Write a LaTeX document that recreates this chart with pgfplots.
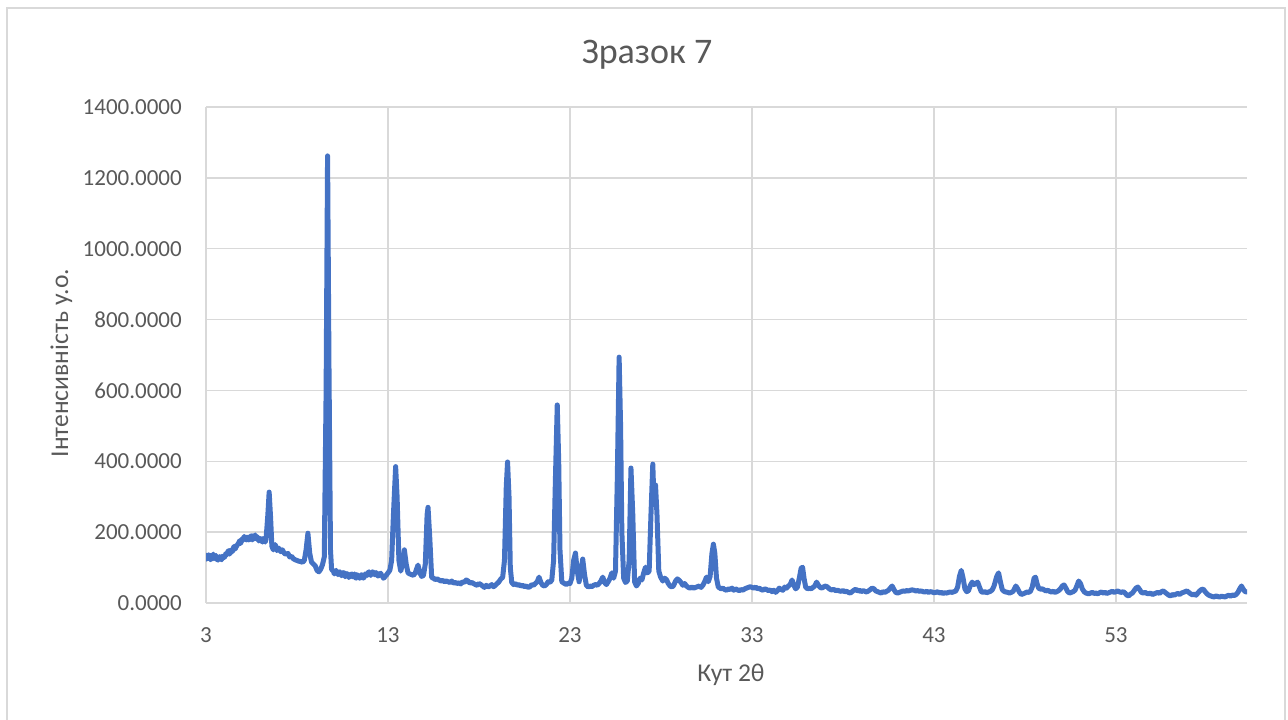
\documentclass[border=0pt]{standalone}
\usepackage{pgfplots}
\pgfplotsset{compat=1.18}
\usepackage{fontspec}
\setmainfont{Carlito}
\definecolor{txt}{HTML}{595959}
\definecolor{gridc}{HTML}{D9D9D9}
\definecolor{xblue}{HTML}{4472C4}
\begin{document}
\begin{tikzpicture}
\useasboundingbox (0pt,0pt) rectangle (1288pt,720pt);
\draw[gridc, line width=1.5pt] (7pt,-5pt) -- (7pt,712pt) -- (1285pt,712pt) -- (1285pt,-5pt);
\node[anchor=base, text=txt, font=\fontsize{36}{40}\selectfont] at (647pt,656pt) {Зразок 7};
\node[anchor=base, text=txt, font=\fontsize{25.6}{30}\selectfont] at (731pt,38pt) {Кут 2θ};
\node[anchor=base, rotate=90, text=txt, font=\fontsize{25.6}{30}\selectfont] at (68pt,357pt) {Інтенсивність у.о.};
\begin{axis}[
  at={(206pt,117pt)}, anchor=south west,
  width=1041pt, height=496pt, scale only axis,
  xmin=3, xmax=60.2, ymin=0, ymax=1400,
  xtick={3,13,23,33,43,53},
  ytick={0,200,400,600,800,1000,1200,1400},
  grid=major,
  major grid style={gridc, line width=1.3pt},
  separate axis lines,
  axis line style={draw=none},
  major tick length=0pt,
  /pgf/number format/assume math mode=true,
  xticklabel style={font=\fontsize{23}{27}\selectfont, text=txt, anchor=north, inner sep=0pt, yshift=-24pt},
  yticklabel style={font=\fontsize{23}{27}\selectfont, text=txt, anchor=east, inner sep=0pt, xshift=-24pt,
    /pgf/number format/.cd, fixed, fixed zerofill, precision=4, 1000 sep={}},
  xticklabel style={/pgf/number format/.cd, fixed, precision=0},
]
\addplot[xblue, line width=5pt, line join=round, line cap=round, no markers] coordinates {
(3.0,135)(3.05,124)(3.1,128)(3.15,136)(3.2,133)(3.25,122)(3.3,126)(3.35,131)(3.4,138)(3.45,125)
(3.5,130)(3.55,134)(3.6,124)(3.65,121)(3.7,127)(3.75,131)(3.8,125)(3.85,122)(3.9,132)(3.95,128)
(4.0,128)(4.05,134)(4.1,140)(4.15,136)(4.2,145)(4.25,148)(4.3,138)(4.35,146)(4.4,150)(4.45,145)
(4.5,155)(4.55,160)(4.6,152)(4.65,158)(4.7,162)(4.75,166)(4.8,170)(4.85,176)(4.9,168)(4.95,175)
(5.0,182)(5.05,178)(5.1,188)(5.15,182)(5.2,178)(5.25,186)(5.3,185)(5.35,178)(5.4,180)(5.45,188)
(5.5,190)(5.55,178)(5.6,183)(5.65,188)(5.7,192)(5.75,184)(5.8,180)(5.85,186)(5.9,175)(5.95,178)
(6.0,182)(6.05,176)(6.1,172)(6.15,182)(6.2,178)(6.25,172)(6.3,180)(6.4,250)(6.47,313)(6.55,240)
(6.62,160)(6.7,150)(6.8,165)(6.9,148)(7.0,155)(7.1,145)(7.2,150)(7.3,140)(7.4,138)(7.5,140)
(7.6,130)(7.7,132)(7.8,125)(7.9,122)(8.0,120)(8.1,118)(8.2,117)(8.3,115)(8.4,120)(8.5,150)
(8.6,197)(8.7,140)(8.8,115)(8.9,110)(9.0,105)(9.1,92)(9.2,88)(9.3,95)(9.4,108)(9.5,130)
(9.6,600)(9.68,1262)(9.76,650)(9.84,150)(9.9,95)(10.0,90)(10.05,82)(10.1,88)(10.15,92)(10.2,86)
(10.25,80)(10.3,85)(10.35,88)(10.4,83)(10.45,77)(10.5,80)(10.55,86)(10.6,84)(10.65,74)(10.7,78)
(10.75,83)(10.8,80)(10.85,72)(10.9,76)(10.95,80)(11.0,82)(11.05,74)(11.1,78)(11.15,82)(11.2,72)
(11.25,70)(11.3,80)(11.35,77)(11.4,75)(11.45,70)(11.5,72)(11.55,80)(11.6,78)(11.65,70)(11.7,74)
(11.75,82)(11.8,80)(11.85,78)(11.9,85)(11.95,88)(12.0,82)(12.05,78)(12.1,84)(12.15,88)(12.2,86)
(12.25,80)(12.3,80)(12.35,86)(12.4,82)(12.45,76)(12.5,78)(12.55,82)(12.6,84)(12.65,78)(12.7,75)
(12.75,70)(12.8,72)(12.85,76)(12.9,78)(13.0,85)(13.1,92)(13.2,120)(13.3,250)(13.42,385)(13.5,300)
(13.6,120)(13.7,90)(13.8,110)(13.9,150)(14.0,110)(14.1,85)(14.2,82)(14.3,80)(14.4,78)(14.5,85)
(14.6,100)(14.65,107)(14.75,85)(14.85,75)(14.95,78)(15.05,110)(15.15,250)(15.2,270)(15.3,180)(15.4,72)
(15.5,70)(15.6,66)(15.7,68)(15.8,65)(15.9,62)(16.0,64)(16.1,60)(16.2,62)(16.3,60)(16.4,58)
(16.5,62)(16.6,56)(16.7,58)(16.8,55)(16.9,57)(17.0,54)(17.1,60)(17.2,58)(17.3,65)(17.4,62)
(17.5,56)(17.6,58)(17.7,55)(17.8,52)(17.9,50)(18.0,55)(18.1,52)(18.2,48)(18.3,44)(18.4,50)
(18.5,45)(18.6,48)(18.7,52)(18.8,46)(18.9,50)(19.0,55)(19.1,60)(19.2,68)(19.3,72)(19.4,120)
(19.5,330)(19.57,398)(19.65,300)(19.72,100)(19.8,58)(19.9,52)(20.0,55)(20.1,50)(20.2,52)(20.3,48)
(20.4,50)(20.5,46)(20.6,48)(20.7,44)(20.8,46)(20.9,52)(21.0,50)(21.1,55)(21.2,60)(21.3,73)
(21.4,58)(21.5,50)(21.6,48)(21.7,52)(21.8,60)(21.9,58)(22.0,65)(22.1,120)(22.2,350)(22.3,559)
(22.38,400)(22.45,150)(22.55,60)(22.7,55)(22.8,52)(22.9,56)(23.0,55)(23.1,70)(23.2,120)(23.3,141)
(23.4,90)(23.5,60)(23.6,90)(23.7,124)(23.8,80)(23.9,50)(24.0,45)(24.1,48)(24.2,46)(24.3,50)
(24.4,52)(24.5,50)(24.6,55)(24.7,62)(24.8,73)(24.9,58)(25.0,52)(25.1,60)(25.2,70)(25.3,85)
(25.4,70)(25.5,90)(25.6,350)(25.7,694)(25.78,500)(25.85,200)(25.95,70)(26.05,58)(26.15,62)(26.25,120)
(26.35,381)(26.45,250)(26.55,60)(26.65,48)(26.75,55)(26.85,70)(26.95,65)(27.05,85)(27.15,101)(27.25,85)
(27.35,90)(27.45,250)(27.55,392)(27.62,280)(27.7,333)(27.78,250)(27.88,90)(27.98,73)(28.1,62)(28.2,70)
(28.3,66)(28.4,55)(28.5,48)(28.6,45)(28.7,50)(28.8,62)(28.9,68)(29.0,64)(29.1,58)(29.2,50)
(29.3,55)(29.4,48)(29.5,44)(29.6,42)(29.7,45)(29.8,42)(29.9,44)(30.0,46)(30.1,48)(30.2,44)
(30.3,50)(30.4,60)(30.5,73)(30.6,60)(30.7,75)(30.8,140)(30.88,166)(30.96,140)(31.05,70)(31.15,45)
(31.3,40)(31.4,42)(31.5,38)(31.6,36)(31.7,40)(31.8,38)(31.9,42)(32.0,36)(32.1,40)(32.2,37)
(32.3,35)(32.4,38)(32.5,36)(32.6,40)(32.7,42)(32.8,44)(32.9,46)(33.0,44)(33.1,42)(33.2,45)
(33.3,40)(33.4,42)(33.5,38)(33.6,36)(33.7,40)(33.8,38)(33.9,35)(34.0,37)(34.1,32)(34.2,36)
(34.3,30)(34.4,35)(34.5,42)(34.6,38)(34.7,36)(34.8,45)(34.9,42)(35.0,48)(35.1,52)(35.2,65)
(35.3,50)(35.4,40)(35.5,45)(35.6,70)(35.7,98)(35.78,101)(35.86,70)(35.95,45)(36.05,40)(36.15,42)
(36.25,40)(36.35,44)(36.45,48)(36.55,59)(36.65,50)(36.75,44)(36.85,42)(36.95,46)(37.05,48)(37.15,45)
(37.25,40)(37.35,37)(37.5,38)(37.6,35)(37.7,36)(37.8,34)(37.9,33)(38.0,35)(38.1,32)(38.2,33)
(38.3,30)(38.4,28)(38.5,32)(38.6,36)(38.7,39)(38.8,34)(38.9,36)(39.0,32)(39.1,35)(39.2,33)
(39.3,31)(39.4,34)(39.5,38)(39.6,42)(39.7,40)(39.8,34)(39.9,32)(40.0,30)(40.1,28)(40.2,32)
(40.3,30)(40.4,33)(40.5,36)(40.6,42)(40.7,48)(40.8,38)(40.9,30)(41.0,28)(41.1,30)(41.2,32)
(41.3,34)(41.4,33)(41.5,35)(41.6,34)(41.7,36)(41.8,37)(41.9,36)(42.0,34)(42.1,35)(42.2,33)
(42.3,34)(42.4,32)(42.5,31)(42.6,33)(42.7,30)(42.8,32)(42.9,31)(43.0,29)(43.1,30)(43.2,32)
(43.3,28)(43.4,30)(43.5,27)(43.6,29)(43.7,28)(43.8,30)(43.9,31)(44.0,30)(44.1,32)(44.2,34)
(44.3,45)(44.4,75)(44.5,92)(44.6,70)(44.7,40)(44.8,32)(44.9,35)(45.0,50)(45.1,59)(45.2,52)
(45.3,55)(45.4,59)(45.5,45)(45.6,32)(45.7,30)(45.8,32)(45.9,29)(46.0,31)(46.1,33)(46.2,37)
(46.3,48)(46.45,75)(46.55,85)(46.65,60)(46.75,38)(46.85,33)(46.95,31)(47.05,30)(47.15,28)(47.25,30)
(47.35,33)(47.5,48)(47.6,40)(47.7,30)(47.8,24)(47.9,26)(48.0,28)(48.1,31)(48.2,30)(48.3,33)
(48.4,45)(48.5,70)(48.58,73)(48.66,55)(48.75,42)(48.85,39)(48.95,40)(49.05,37)(49.15,34)(49.25,36)
(49.35,33)(49.45,31)(49.55,33)(49.65,30)(49.75,32)(49.85,35)(49.95,40)(50.05,48)(50.15,51)(50.25,42)
(50.35,32)(50.45,28)(50.55,30)(50.65,32)(50.75,36)(50.85,48)(50.95,62)(51.05,55)(51.15,40)(51.25,32)
(51.35,28)(51.5,26)(51.6,28)(51.7,30)(51.8,27)(51.9,28)(52.0,26)(52.1,29)(52.2,31)(52.3,28)
(52.4,30)(52.5,27)(52.6,29)(52.7,31)(52.8,33)(52.9,30)(53.0,32)(53.1,34)(53.2,31)(53.3,30)
(53.4,32)(53.5,28)(53.6,22)(53.7,20)(53.8,25)(53.9,28)(54.0,35)(54.1,42)(54.2,45)(54.3,38)
(54.4,30)(54.5,28)(54.6,30)(54.7,27)(54.8,26)(54.9,28)(55.0,24)(55.1,26)(55.2,28)(55.3,30)
(55.4,27)(55.5,32)(55.6,34)(55.7,30)(55.8,26)(55.9,22)(56.0,20)(56.1,24)(56.2,22)(56.3,25)
(56.4,27)(56.5,24)(56.6,28)(56.7,30)(56.8,32)(56.9,34)(57.0,30)(57.1,26)(57.2,23)(57.3,25)
(57.4,22)(57.5,28)(57.6,34)(57.7,38)(57.8,39)(57.9,32)(58.0,26)(58.1,22)(58.2,20)(58.3,18)
(58.4,17)(58.5,20)(58.6,18)(58.7,17)(58.8,19)(58.9,18)(59.0,17)(59.1,20)(59.2,22)(59.3,19)
(59.4,23)(59.5,21)(59.6,24)(59.7,30)(59.8,40)(59.9,48)(60.0,38)(60.1,32)(60.2,31)
};
\end{axis}
\end{tikzpicture}
\end{document}
